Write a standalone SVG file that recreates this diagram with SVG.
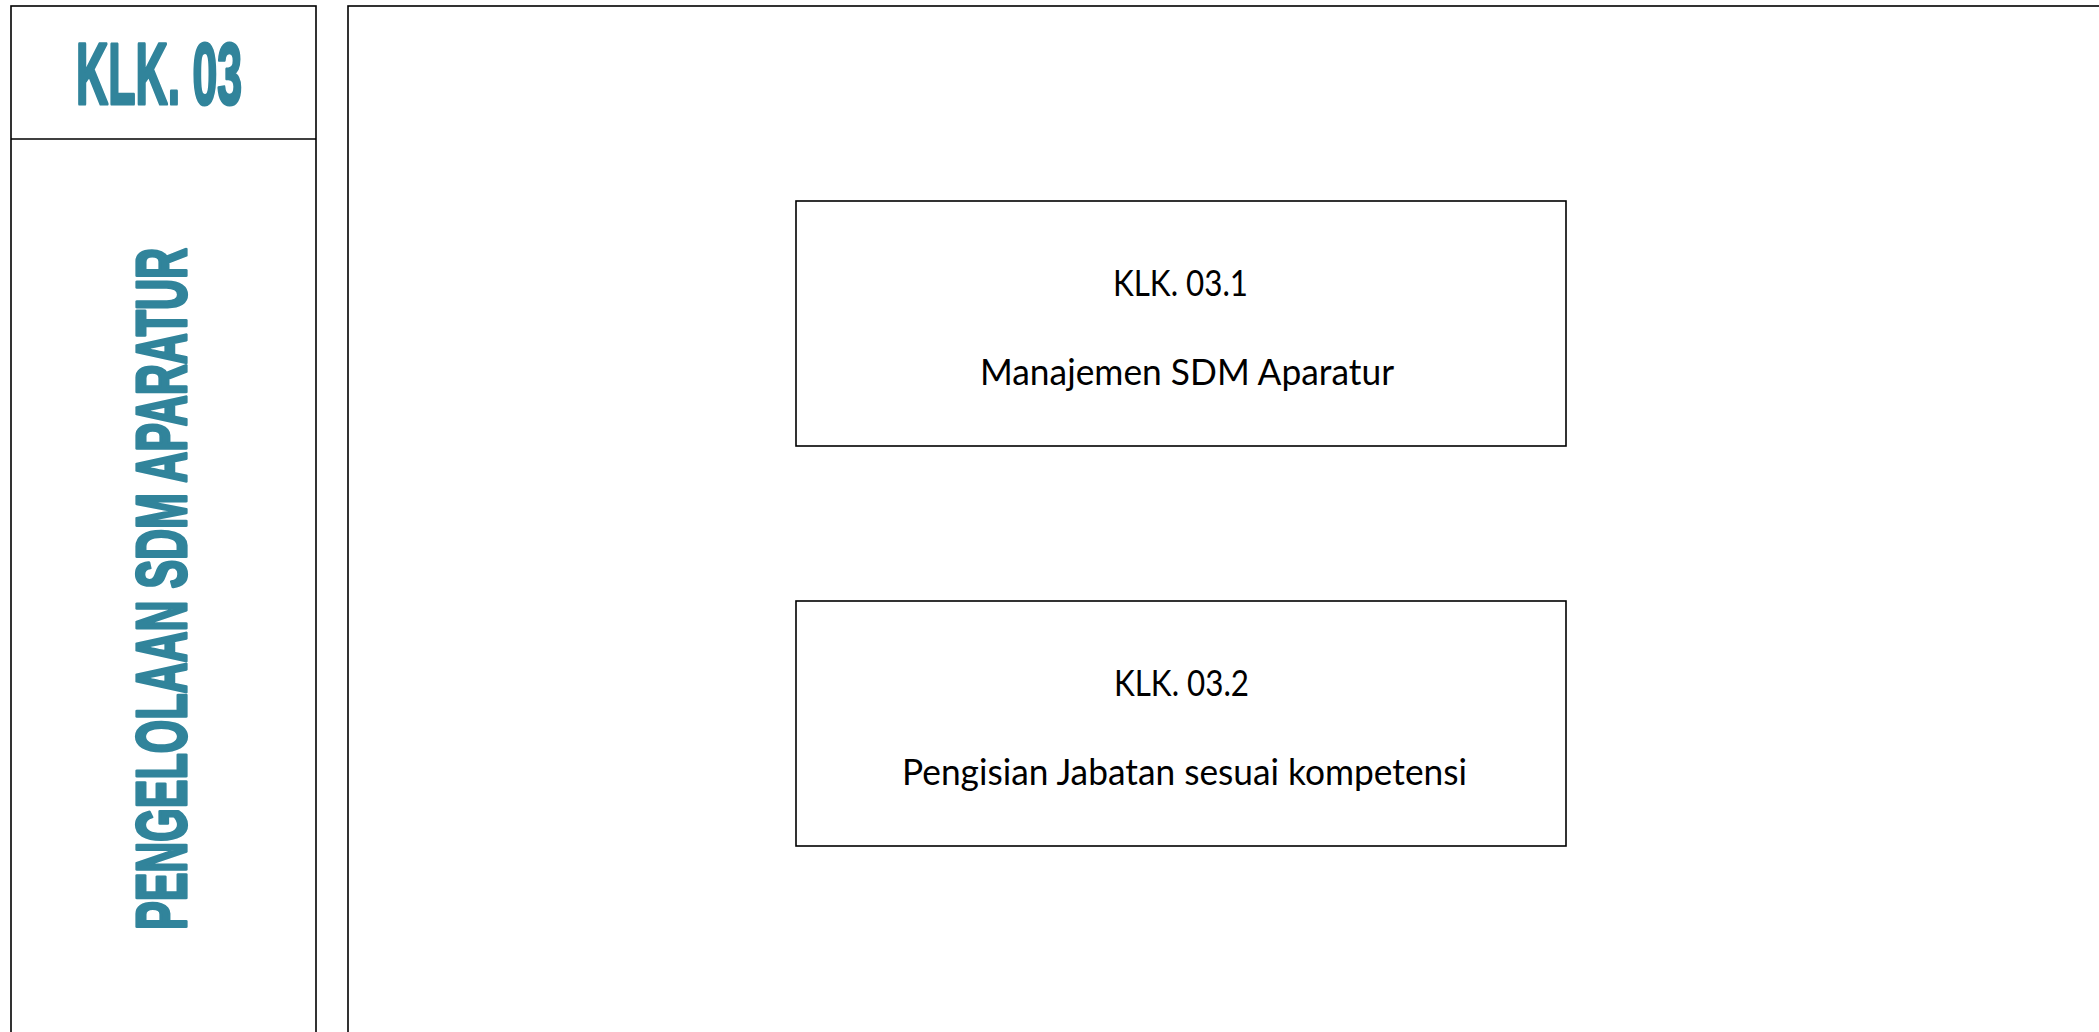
<svg xmlns="http://www.w3.org/2000/svg" width="2099" height="1032" viewBox="0 0 2099 1032">
  <style>
    .frame { fill: #ffffff; stroke: #000000; stroke-width: 1.6; }
    .title { font-family: "Liberation Sans", Arial, sans-serif; font-weight: bold; fill: #31849b; stroke: #31849b; stroke-width: 3.2; stroke-linejoin: round; }
    .label { font-family: Lato, "Liberation Sans", sans-serif; font-size: 37px; fill: #000000; }
  </style>
  <rect x="0" y="0" width="2099" height="1032" fill="#ffffff"/>

  <!-- left heading column -->
  <g id="heading">
    <rect class="frame" x="11" y="6" width="305" height="1060"/>
    <line x1="11" y1="139" x2="316" y2="139" stroke="#000000" stroke-width="1.6"/>
    <text class="title" x="76" y="104" font-size="88" textLength="166" lengthAdjust="spacingAndGlyphs">KLK. 03</text>
    <text class="title" transform="translate(186 930) rotate(-90)" x="0" y="0" font-size="71" textLength="682" lengthAdjust="spacingAndGlyphs">PENGELOLAAN SDM APARATUR</text>
  </g>

  <!-- right content area -->
  <g id="content-area">
    <rect class="frame" x="348" y="6" width="1800" height="1100"/>
  </g>

  <g id="node-klk-03-1">
    <rect class="frame" x="796" y="201" width="770" height="245"/>
    <text class="label" x="1113" y="296" textLength="135" lengthAdjust="spacingAndGlyphs">KLK. 03.1</text>
    <text class="label" x="980" y="385" textLength="414" lengthAdjust="spacingAndGlyphs">Manajemen SDM Aparatur</text>
  </g>

  <g id="node-klk-03-2">
    <rect class="frame" x="796" y="601" width="770" height="245"/>
    <text class="label" x="1114" y="696" textLength="135" lengthAdjust="spacingAndGlyphs">KLK. 03.2</text>
    <text class="label" x="902" y="785" textLength="565" lengthAdjust="spacingAndGlyphs">Pengisian Jabatan sesuai kompetensi</text>
  </g>

  <g id="connectors"/>
</svg>
